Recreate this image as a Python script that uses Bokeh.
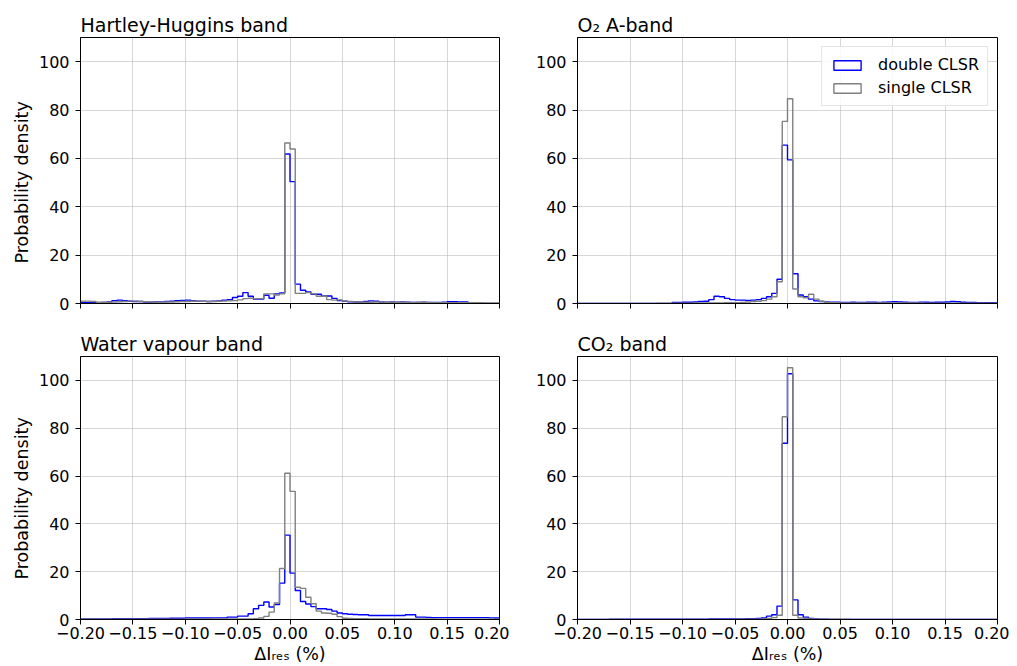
import numpy as np
from bokeh.plotting import figure
from bokeh.layouts import column, row
from bokeh.models import Range1d, FixedTicker, Legend, LegendItem, Title
from bokeh.embed import file_html
from bokeh.resources import INLINE

# ---------------- data ----------------
bin_start = -0.2
bin_width = 0.005
n_bins = 80

x_ticks = [-0.2, -0.15, -0.1, -0.05, 0.0, 0.05, 0.1, 0.15, 0.2]
x_tick_labels = ["\u22120.20", "\u22120.15", "\u22120.10", "\u22120.05", "0.00",
                 "0.05", "0.10", "0.15", "0.20"]
y_ticks = [0, 20, 40, 60, 80, 100]
y_tick_labels = ["0", "20", "40", "60", "80", "100"]

titles = ["Hartley-Huggins band", "O\u2082 A-band", "Water vapour band", "CO\u2082 band"]
series_labels = ["double CLSR", "single CLSR"]
x_label = "\u0394I\u1d63\u2091\u209b (%)"
y_label = "Probability density"

hh_double = [0.4, 0.3, 0.3, 0.3, 0.4, 0.6, 1.2, 1.4, 1.2, 0.9,
             0.8, 0.8, 0.6, 0.5, 0.6, 0.6, 0.8, 0.9, 1.2, 1.3,
             1.4, 1.2, 1.0, 0.9, 0.8, 0.9, 1.1, 1.4, 1.6, 2.5,
             3.0, 4.5, 3.0, 1.8, 1.8, 3.4, 2.2, 4.0, 4.4, 61.8,
             50.4, 8.0, 5.5, 4.8, 3.8, 3.8, 3.1, 3.1, 2.1, 1.2,
             0.9, 0.7, 0.6, 0.6, 0.8, 1.1, 0.9, 0.6, 0.5, 0.6,
             0.5, 0.6, 0.5, 0.4, 0.4, 0.5, 0.4, 0.4, 0.4, 0.5,
             0.7, 0.7, 0.6, 0.6, 0.0, 0.0, 0.0, 0.0, 0.0, 0.0]
hh_single = [1.0, 1.0, 0.8, 0.5, 0.5, 0.5, 0.6, 0.7, 0.8, 1.0,
             1.0, 0.8, 0.7, 0.6, 0.5, 0.5, 0.6, 0.6, 0.7, 0.8,
             0.8, 0.9, 1.0, 0.9, 0.8, 0.8, 0.9, 1.0, 1.1, 1.2,
             1.5, 2.0, 2.2, 2.0, 2.0, 4.0, 4.0, 3.5, 4.0, 66.4,
             63.9, 4.2, 4.2, 4.5, 4.0, 3.0, 3.0, 1.6, 1.4, 1.5,
             1.0, 0.8, 0.6, 0.6, 0.5, 0.5, 0.6, 0.6, 0.5, 0.5,
             0.5, 0.5, 0.4, 0.4, 0.5, 0.5, 0.4, 0.3, 0.3, 0.3,
             0.3, 0.3, 0.3, 0.3, 0.3, 0.3, 0.3, 0.2, 0.2, 0.2]

o2_double = [0.0, 0.0, 0.0, 0.0, 0.0, 0.0, 0.0, 0.0, 0.0, 0.0,
             0.0, 0.0, 0.0, 0.0, 0.0, 0.0, 0.0, 0.0, 0.4, 0.4,
             0.5, 0.5, 0.6, 0.8, 0.9, 1.6, 3.0, 2.8, 2.1, 1.6,
             1.4, 1.4, 1.3, 1.4, 1.6, 2.1, 2.8, 4.2, 10.0, 65.5,
             59.4, 12.3, 3.5, 2.8, 1.8, 1.1, 0.8, 0.6, 0.5, 0.5,
             0.4, 0.4, 0.5, 0.4, 0.4, 0.5, 0.5, 0.4, 0.5, 0.6,
             0.7, 0.6, 0.5, 0.4, 0.4, 0.5, 0.5, 0.4, 0.5, 0.5,
             0.6, 0.8, 0.7, 0.5, 0.4, 0.4, 0.3, 0.3, 0.3, 0.3]
o2_single = [0.0, 0.0, 0.0, 0.0, 0.0, 0.0, 0.0, 0.0, 0.0, 0.0,
             0.0, 0.0, 0.0, 0.0, 0.0, 0.1, 0.1, 0.1, 0.1, 0.1,
             0.1, 0.1, 0.2, 0.2, 0.2, 0.2, 0.2, 0.2, 0.3, 0.3,
             0.3, 0.4, 0.6, 0.8, 0.9, 1.2, 1.8, 2.8, 9.0, 75.3,
             84.7, 6.0, 2.8, 2.4, 3.8, 1.8, 0.9, 0.5, 0.3, 0.3,
             0.2, 0.2, 0.2, 0.2, 0.2, 0.2, 0.2, 0.2, 0.2, 0.2,
             0.2, 0.2, 0.2, 0.2, 0.2, 0.2, 0.1, 0.1, 0.1, 0.1,
             0.1, 0.1, 0.1, 0.1, 0.1, 0.1, 0.1, 0.1, 0.1, 0.1]

wv_double = [0.2, 0.2, 0.2, 0.2, 0.2, 0.2, 0.3, 0.3, 0.3, 0.3,
             0.3, 0.3, 0.3, 0.4, 0.4, 0.4, 0.4, 0.5, 0.5, 0.5,
             0.6, 0.6, 0.6, 0.6, 0.6, 0.7, 0.7, 0.7, 1.0, 1.0,
             1.4, 1.4, 2.4, 4.5, 5.9, 7.3, 5.2, 6.3, 15.2, 35.3,
             19.4, 12.1, 7.5, 6.5, 5.4, 4.5, 4.5, 4.2, 3.5, 2.7,
             2.4, 2.2, 2.1, 2.0, 2.0, 1.7, 1.7, 1.7, 1.7, 1.7,
             1.7, 1.7, 2.0, 2.0, 1.0, 1.0, 0.9, 0.8, 0.8, 0.8,
             0.8, 0.8, 0.8, 0.8, 0.8, 0.8, 0.8, 0.8, 0.7, 0.6]
wv_single = [0.1, 0.1, 0.1, 0.1, 0.1, 0.1, 0.1, 0.1, 0.1, 0.1,
             0.1, 0.1, 0.1, 0.1, 0.1, 0.1, 0.1, 0.1, 0.1, 0.1,
             0.2, 0.2, 0.2, 0.2, 0.2, 0.2, 0.2, 0.2, 0.2, 0.2,
             0.2, 0.2, 0.2, 0.3, 0.6, 1.3, 3.1, 6.9, 21.3, 61.2,
             53.6, 13.5, 13.0, 9.3, 6.6, 3.5, 2.7, 2.6, 2.2, 1.2,
             0.5, 0.4, 0.3, 0.3, 0.3, 0.2, 0.2, 0.2, 0.2, 0.2,
             0.2, 0.2, 0.2, 0.2, 0.2, 0.2, 0.2, 0.2, 0.1, 0.1,
             0.1, 0.1, 0.1, 0.1, 0.1, 0.1, 0.1, 0.1, 0.1, 0.1]

co2_double = [0.0, 0.0, 0.0, 0.0, 0.0, 0.0, 0.1, 0.1, 0.1, 0.1,
              0.1, 0.1, 0.1, 0.1, 0.1, 0.1, 0.1, 0.1, 0.1, 0.1,
              0.1, 0.1, 0.1, 0.1, 0.1, 0.2, 0.2, 0.2, 0.2, 0.2,
              0.2, 0.2, 0.3, 0.3, 0.4, 0.6, 1.4, 2.0, 5.6, 73.7,
              102.8, 8.2, 2.0, 1.0, 0.4, 0.2, 0.1, 0.1, 0.0, 0.0,
              0.0, 0.0, 0.0, 0.0, 0.0, 0.0, 0.0, 0.0, 0.0, 0.0,
              0.0, 0.0, 0.0, 0.0, 0.0, 0.0, 0.0, 0.0, 0.0, 0.0,
              0.0, 0.0, 0.0, 0.0, 0.0, 0.0, 0.0, 0.0, 0.0, 0.0]
co2_single = [0.0, 0.0, 0.0, 0.0, 0.0, 0.0, 0.0, 0.0, 0.0, 0.0,
              0.0, 0.0, 0.0, 0.0, 0.0, 0.0, 0.0, 0.0, 0.0, 0.0,
              0.0, 0.0, 0.0, 0.0, 0.0, 0.0, 0.0, 0.0, 0.0, 0.0,
              0.1, 0.1, 0.1, 0.1, 0.1, 0.2, 0.4, 0.8, 1.8, 84.8,
              105.3, 1.8, 0.6, 0.4, 0.2, 0.1, 0.1, 0.1, 0.1, 0.1,
              0.1, 0.1, 0.0, 0.0, 0.0, 0.0, 0.0, 0.0, 0.0, 0.0,
              0.0, 0.0, 0.0, 0.0, 0.0, 0.0, 0.0, 0.0, 0.0, 0.0,
              0.0, 0.0, 0.0, 0.0, 0.0, 0.0, 0.0, 0.0, 0.0, 0.0]

# ---------------- styling ----------------
FONT = "DejaVu Sans"
C_DOUBLE = "#0000ff"
C_SINGLE = "#808080"
TICK_FS = "16px"
LABEL_FS = "17.5px"
TITLE_FS = "19px"

edges = bin_start + bin_width * np.arange(n_bins + 1)


def make_panel(title, double, single, width, height, borders,
               show_xlabels, show_ylabel, legend=False):
    bl, br, bt, bb = borders
    p = figure(width=width, height=height, output_backend="svg",
               toolbar_location=None,
               x_range=Range1d(-0.2, 0.2), y_range=Range1d(0, 110),
               min_border_left=bl, min_border_right=br,
               min_border_top=bt, min_border_bottom=bb)
    p.title.text = title
    p.title.text_font = FONT
    p.title.text_font_size = TITLE_FS
    p.title.text_font_style = "normal"
    p.title.text_color = "black"
    p.title.align = "left"
    p.title.standoff = 4
    p.title.offset = 0

    p.outline_line_color = "black"
    p.outline_line_width = 1
    p.background_fill_color = "white"
    p.border_fill_color = "white"

    p.xaxis.ticker = FixedTicker(ticks=x_ticks)
    p.yaxis.ticker = FixedTicker(ticks=y_ticks)
    p.yaxis.major_label_overrides = dict(zip(y_ticks, y_tick_labels))
    if show_xlabels:
        p.xaxis.major_label_overrides = dict(zip(x_ticks, x_tick_labels))
        p.xaxis.axis_label = x_label
    else:
        p.xaxis.major_label_overrides = {t: "" for t in x_ticks}

    for ax in (p.xaxis, p.yaxis):
        ax.axis_line_color = "black"
        ax.axis_line_width = 1
        ax.major_tick_line_color = "black"
        ax.major_tick_out = 5
        ax.major_tick_in = 0
        ax.minor_tick_line_color = None
        ax.major_label_text_font = FONT
        ax.major_label_text_font_size = TICK_FS
        ax.major_label_text_color = "black"
        ax.axis_label_text_font = FONT
        ax.axis_label_text_font_size = LABEL_FS
        ax.axis_label_text_font_style = "normal"
        ax.axis_label_text_color = "black"
    p.xaxis.major_label_standoff = 2
    p.xaxis.axis_label_standoff = 2
    p.yaxis.major_label_standoff = 6

    p.grid.grid_line_color = "#b0b0b0"
    p.grid.grid_line_alpha = 0.5
    p.grid.grid_line_width = 1

    yd = list(double) + [double[-1]]
    ys = list(single) + [single[-1]]
    p.step(x=edges, y=yd, mode="after", line_color=C_DOUBLE, line_width=1.4)
    p.step(x=edges, y=ys, mode="after", line_color=C_SINGLE, line_width=1.4)

    if show_ylabel:
        yt = Title(text=y_label, align="left", offset=40, standoff=7,
                   text_font=FONT, text_font_size=LABEL_FS,
                   text_font_style="normal", text_color="black")
        p.add_layout(yt, "left")

    if legend:
        nan = [float("nan")]
        rb = p.quad(left=nan, right=nan, bottom=nan, top=nan, fill_color="white",
                    line_color=C_DOUBLE, line_width=1.4)
        rg = p.quad(left=nan, right=nan, bottom=nan, top=nan, fill_color="white",
                    line_color=C_SINGLE, line_width=1.4)
        lg = Legend(items=[LegendItem(label=series_labels[0], renderers=[rb]),
                           LegendItem(label=series_labels[1], renderers=[rg])],
                    location="top_right")
        lg.label_text_font = FONT
        lg.label_text_font_size = "16px"
        lg.label_text_color = "black"
        lg.glyph_width = 34
        lg.glyph_height = 12
        lg.label_standoff = 14
        lg.spacing = 4
        lg.padding = 8
        lg.margin = 9
        lg.border_line_color = "#cccccc"
        lg.border_line_width = 1
        lg.background_fill_alpha = 0.85
        p.add_layout(lg)
    return p


p_tl = make_panel(titles[0], hh_double, hh_single, 509, 323, (80, 10, 37, 20),
                  False, True)
p_tr = make_panel(titles[1], o2_double, o2_single, 500, 323, (68, 12, 37, 20),
                  False, False, legend=True)
p_bl = make_panel(titles[2], wv_double, wv_single, 509, 343, (80, 10, 33, 47),
                  True, True)
p_br = make_panel(titles[3], co2_double, co2_single, 500, 343, (68, 12, 33, 47),
                  True, False)

layout = column(row(p_tl, p_tr), row(p_bl, p_br))

with open("out.html", "w") as f:
    f.write(file_html(layout, INLINE))
